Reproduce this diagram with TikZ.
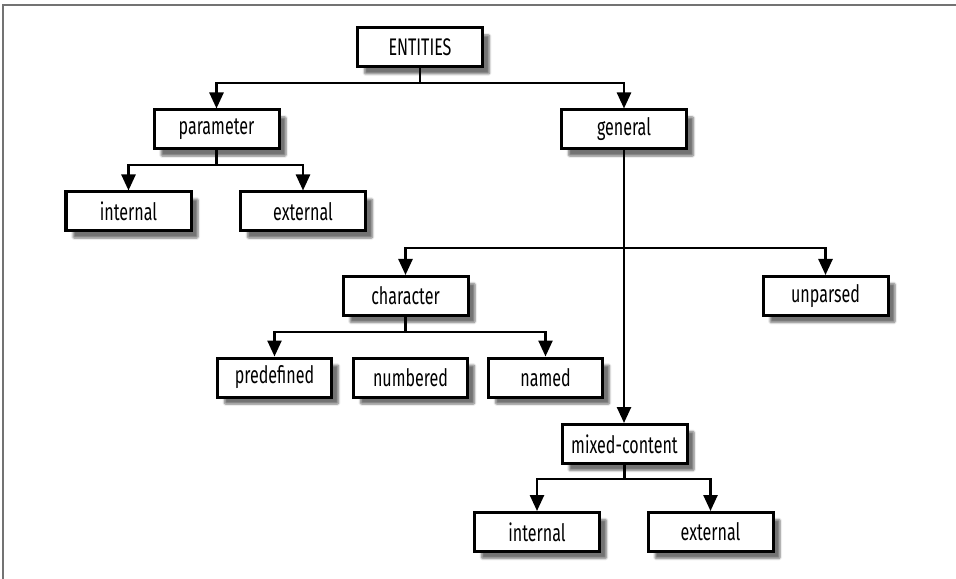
\documentclass[tikz,border=0pt]{standalone}
\usepackage{fontspec}
\setmainfont{Fira Sans}[FakeStretch=0.67]
\usetikzlibrary{arrows.meta,shadows.blur}
\begin{document}
\begin{tikzpicture}[x=1bp,y=-1bp,
  box/.style={draw=black,line width=3bp,fill=white,inner sep=0pt,
    minimum width=125bp,minimum height=39bp,font=\fontsize{24bp}{27bp}\selectfont,
    blur shadow={shadow xshift=7bp,shadow yshift=-7bp,shadow opacity=55,shadow blur steps=6,shadow blur extra rounding=1bp}},
  sbox/.style={box,minimum width=114bp},
  conn/.style={line width=2.5bp},
  arr/.style={conn,-{Triangle[width=14bp,length=16bp]}}]
\useasboundingbox (0,0) rectangle (956,579);
\draw[line width=1.2bp,black!55] (3,579) -- (3,5) -- (956,5);

\node[box] (ent) at (420,47.5) {ENTITIES};
\node[box] (par) at (216.5,129.5) {parameter};
\node[box] (gen) at (624,129.5) {general};
\node[box] (pint) at (128.5,211.5) {internal};
\node[box] (pext) at (303,211.5) {external};
\node[box] (char) at (405.5,296) {character};
\node[box] (unp) at (825.5,296) {unparsed};
\node[sbox] (pre) at (274.5,377.5) {predefined};
\node[sbox] (num) at (410.5,377.5) {numbered};
\node[sbox] (nam) at (545.5,377.5) {named};
\node[box] (mix) at (624.5,444) {mixed-content};
\node[box] (mint) at (537,532) {internal};
\node[box] (mext) at (710.5,532) {external};

\coordinate (eb) at (ent.south |- 0,83);
\draw[conn] (ent.south) -- (eb);
\draw[arr] (eb) -| (par.north);
\draw[arr] (eb) -| (gen.north);

\coordinate (pb) at (par.south |- 0,165);
\draw[conn] (par.south) -- (pb);
\draw[arr] (pb) -| (pint.north);
\draw[arr] (pb) -| (pext.north);

\draw[arr] (gen.south) -- (gen.south |- mix.north);
\coordinate (gb) at (gen.south |- 0,248);
\draw[arr] (gb) -| (char.north);
\draw[arr] (gb) -| (unp.north);

\coordinate (cb) at (char.south |- 0,332);
\draw[conn] (char.south) -- (cb);
\draw[arr] (cb) -| (pre.north);
\draw[arr] (cb) -| (nam.north);

\coordinate (mb) at (mix.south |- 0,479);
\draw[conn] (mix.south) -- (mb);
\draw[arr] (mb) -| (mint.north);
\draw[arr] (mb) -| (mext.north);
\end{tikzpicture}
\end{document}
